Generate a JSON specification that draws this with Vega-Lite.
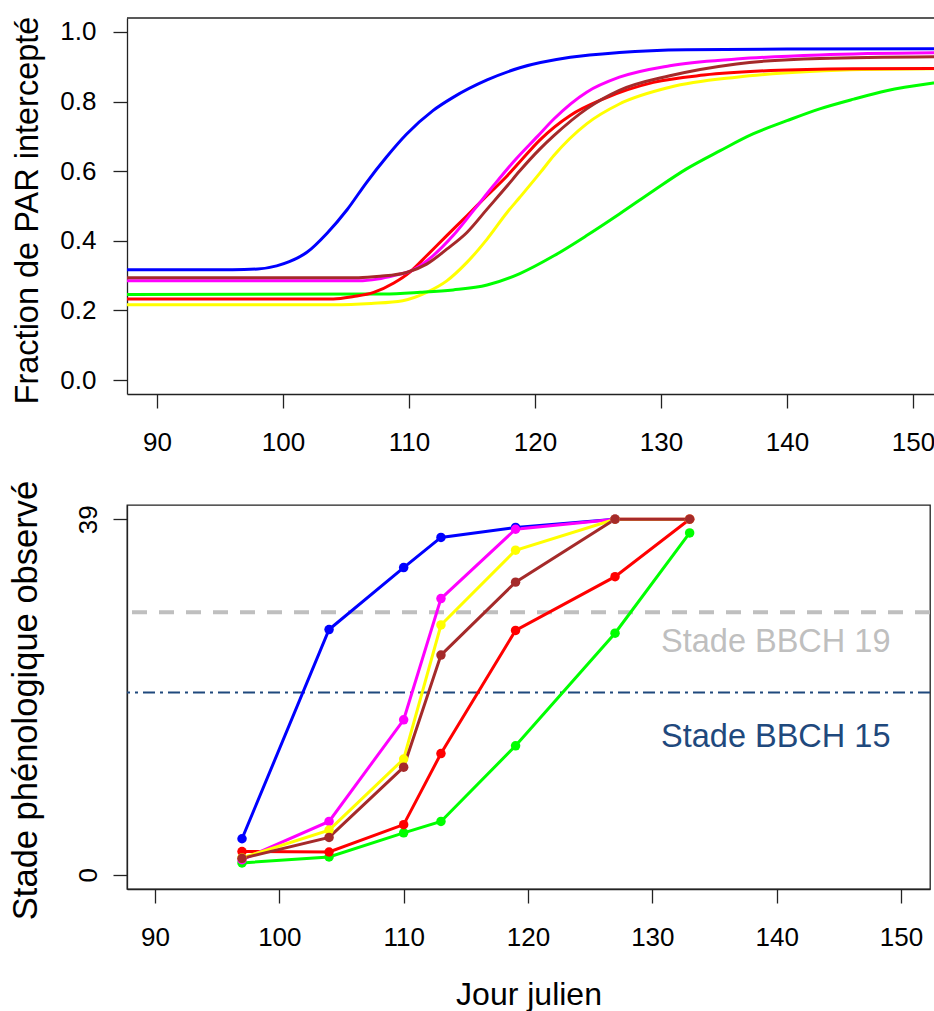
{
  "$schema": "https://vega.github.io/schema/vega-lite/v6.json",
  "background": "white",
  "padding": {"left": 7, "top": 16, "right": 0, "bottom": 0},
  "spacing": 24,
  "config": {
    "font": "Liberation Sans",
    "axis": {
      "grid": false,
      "domainColor": "#222222",
      "tickColor": "#222222",
      "domainWidth": 1.3,
      "tickWidth": 1.3,
      "tickSize": 14,
      "labelColor": "black",
      "titleColor": "black",
      "labelFont": "Liberation Sans",
      "titleFont": "Liberation Sans",
      "labelFontWeight": "normal",
      "titleFontWeight": "normal",
      "labelFontSize": 26,
      "titleFontSize": 32,
      "labelFlush": false,
      "labelOverlap": false
    }
  },
  "datasets": {
    "courbes": [
      {"serie": "s3", "jour": 87.6, "fraction": 0.216},
      {"serie": "s3", "jour": 104, "fraction": 0.216},
      {"serie": "s3", "jour": 107, "fraction": 0.22},
      {"serie": "s3", "jour": 109.5, "fraction": 0.228},
      {"serie": "s3", "jour": 111.4, "fraction": 0.252},
      {"serie": "s3", "jour": 113, "fraction": 0.285},
      {"serie": "s3", "jour": 114.6, "fraction": 0.338},
      {"serie": "s3", "jour": 116.2, "fraction": 0.405},
      {"serie": "s3", "jour": 117.8, "fraction": 0.482},
      {"serie": "s3", "jour": 118.8, "fraction": 0.525},
      {"serie": "s3", "jour": 120.4, "fraction": 0.595},
      {"serie": "s3", "jour": 121.5, "fraction": 0.645},
      {"serie": "s3", "jour": 124.1, "fraction": 0.736},
      {"serie": "s3", "jour": 126.7, "fraction": 0.793},
      {"serie": "s3", "jour": 130.7, "fraction": 0.841},
      {"serie": "s3", "jour": 136, "fraction": 0.87},
      {"serie": "s3", "jour": 141.8, "fraction": 0.886},
      {"serie": "s3", "jour": 146, "fraction": 0.892},
      {"serie": "s3", "jour": 152, "fraction": 0.894},

      {"serie": "s6", "jour": 87.6, "fraction": 0.246},
      {"serie": "s6", "jour": 108, "fraction": 0.247},
      {"serie": "s6", "jour": 110.9, "fraction": 0.252},
      {"serie": "s6", "jour": 113.5, "fraction": 0.259},
      {"serie": "s6", "jour": 116.2, "fraction": 0.273},
      {"serie": "s6", "jour": 118.8, "fraction": 0.306},
      {"serie": "s6", "jour": 121.5, "fraction": 0.357},
      {"serie": "s6", "jour": 124.1, "fraction": 0.415},
      {"serie": "s6", "jour": 126.7, "fraction": 0.477},
      {"serie": "s6", "jour": 129.4, "fraction": 0.544},
      {"serie": "s6", "jour": 132, "fraction": 0.606},
      {"serie": "s6", "jour": 134.7, "fraction": 0.659},
      {"serie": "s6", "jour": 137.3, "fraction": 0.707},
      {"serie": "s6", "jour": 140, "fraction": 0.745},
      {"serie": "s6", "jour": 142.6, "fraction": 0.779},
      {"serie": "s6", "jour": 145.3, "fraction": 0.807},
      {"serie": "s6", "jour": 147.9, "fraction": 0.831},
      {"serie": "s6", "jour": 151.6, "fraction": 0.853},
      {"serie": "s6", "jour": 152, "fraction": 0.855},

      {"serie": "s1", "jour": 87.6, "fraction": 0.317},
      {"serie": "s1", "jour": 96, "fraction": 0.317},
      {"serie": "s1", "jour": 98, "fraction": 0.319},
      {"serie": "s1", "jour": 99.5, "fraction": 0.328},
      {"serie": "s1", "jour": 100.5, "fraction": 0.34},
      {"serie": "s1", "jour": 101.9, "fraction": 0.367},
      {"serie": "s1", "jour": 103.5, "fraction": 0.422},
      {"serie": "s1", "jour": 105.1, "fraction": 0.49},
      {"serie": "s1", "jour": 106.6, "fraction": 0.566},
      {"serie": "s1", "jour": 108.2, "fraction": 0.64},
      {"serie": "s1", "jour": 109.8, "fraction": 0.706},
      {"serie": "s1", "jour": 111.9, "fraction": 0.774},
      {"serie": "s1", "jour": 113.5, "fraction": 0.812},
      {"serie": "s1", "jour": 116.2, "fraction": 0.862},
      {"serie": "s1", "jour": 118.8, "fraction": 0.897},
      {"serie": "s1", "jour": 122.8, "fraction": 0.927},
      {"serie": "s1", "jour": 126.7, "fraction": 0.941},
      {"serie": "s1", "jour": 132, "fraction": 0.949},
      {"serie": "s1", "jour": 140, "fraction": 0.951},
      {"serie": "s1", "jour": 152, "fraction": 0.952},

      {"serie": "s5", "jour": 87.6, "fraction": 0.233},
      {"serie": "s5", "jour": 104, "fraction": 0.233},
      {"serie": "s5", "jour": 105.6, "fraction": 0.24},
      {"serie": "s5", "jour": 107.2, "fraction": 0.252},
      {"serie": "s5", "jour": 108.8, "fraction": 0.279},
      {"serie": "s5", "jour": 110.1, "fraction": 0.311},
      {"serie": "s5", "jour": 111.4, "fraction": 0.357},
      {"serie": "s5", "jour": 113, "fraction": 0.415},
      {"serie": "s5", "jour": 114.6, "fraction": 0.472},
      {"serie": "s5", "jour": 116.2, "fraction": 0.53},
      {"serie": "s5", "jour": 117.8, "fraction": 0.587},
      {"serie": "s5", "jour": 118.8, "fraction": 0.627},
      {"serie": "s5", "jour": 120.4, "fraction": 0.69},
      {"serie": "s5", "jour": 122.8, "fraction": 0.76},
      {"serie": "s5", "jour": 125.4, "fraction": 0.807},
      {"serie": "s5", "jour": 129.4, "fraction": 0.855},
      {"serie": "s5", "jour": 133.4, "fraction": 0.876},
      {"serie": "s5", "jour": 138.7, "fraction": 0.889},
      {"serie": "s5", "jour": 145.2, "fraction": 0.894},
      {"serie": "s5", "jour": 152, "fraction": 0.895},

      {"serie": "s2", "jour": 87.6, "fraction": 0.285},
      {"serie": "s2", "jour": 106, "fraction": 0.285},
      {"serie": "s2", "jour": 107.5, "fraction": 0.29},
      {"serie": "s2", "jour": 108.8, "fraction": 0.3},
      {"serie": "s2", "jour": 110.3, "fraction": 0.316},
      {"serie": "s2", "jour": 111.9, "fraction": 0.357},
      {"serie": "s2", "jour": 113.5, "fraction": 0.415},
      {"serie": "s2", "jour": 115.1, "fraction": 0.486},
      {"serie": "s2", "jour": 116.7, "fraction": 0.558},
      {"serie": "s2", "jour": 118.3, "fraction": 0.627},
      {"serie": "s2", "jour": 120.2, "fraction": 0.7},
      {"serie": "s2", "jour": 121.5, "fraction": 0.75},
      {"serie": "s2", "jour": 124.1, "fraction": 0.827},
      {"serie": "s2", "jour": 126.7, "fraction": 0.87},
      {"serie": "s2", "jour": 130.7, "fraction": 0.903},
      {"serie": "s2", "jour": 136, "fraction": 0.922},
      {"serie": "s2", "jour": 142.6, "fraction": 0.934},
      {"serie": "s2", "jour": 152, "fraction": 0.94},

      {"serie": "s4", "jour": 87.6, "fraction": 0.294},
      {"serie": "s4", "jour": 106, "fraction": 0.294},
      {"serie": "s4", "jour": 107.7, "fraction": 0.298},
      {"serie": "s4", "jour": 109.8, "fraction": 0.309},
      {"serie": "s4", "jour": 111.4, "fraction": 0.333},
      {"serie": "s4", "jour": 113, "fraction": 0.376},
      {"serie": "s4", "jour": 114.6, "fraction": 0.424},
      {"serie": "s4", "jour": 116.2, "fraction": 0.491},
      {"serie": "s4", "jour": 117.8, "fraction": 0.558},
      {"serie": "s4", "jour": 118.8, "fraction": 0.601},
      {"serie": "s4", "jour": 120.4, "fraction": 0.664},
      {"serie": "s4", "jour": 121.5, "fraction": 0.702},
      {"serie": "s4", "jour": 124.1, "fraction": 0.779},
      {"serie": "s4", "jour": 126.7, "fraction": 0.832},
      {"serie": "s4", "jour": 130.7, "fraction": 0.874},
      {"serie": "s4", "jour": 136, "fraction": 0.908},
      {"serie": "s4", "jour": 142.6, "fraction": 0.924},
      {"serie": "s4", "jour": 152, "fraction": 0.929}
    ],
    "stades": [
      {"serie": "s1", "jour": 97, "stade": 3.95},
      {"serie": "s1", "jour": 104, "stade": 26.9},
      {"serie": "s1", "jour": 110, "stade": 33.7},
      {"serie": "s1", "jour": 113, "stade": 37.0},
      {"serie": "s1", "jour": 119, "stade": 38.1},
      {"serie": "s1", "jour": 127, "stade": 39},
      {"serie": "s6", "jour": 97, "stade": 1.3},
      {"serie": "s6", "jour": 104, "stade": 1.95},
      {"serie": "s6", "jour": 110, "stade": 4.6},
      {"serie": "s6", "jour": 113, "stade": 5.85},
      {"serie": "s6", "jour": 119, "stade": 14.15},
      {"serie": "s6", "jour": 127, "stade": 26.5},
      {"serie": "s6", "jour": 133, "stade": 37.5},
      {"serie": "s5", "jour": 97, "stade": 2.55},
      {"serie": "s5", "jour": 104, "stade": 2.5},
      {"serie": "s5", "jour": 110, "stade": 5.5},
      {"serie": "s5", "jour": 113, "stade": 13.3},
      {"serie": "s5", "jour": 119, "stade": 26.8},
      {"serie": "s5", "jour": 127, "stade": 32.7},
      {"serie": "s5", "jour": 133, "stade": 39},
      {"serie": "s2", "jour": 97, "stade": 1.65},
      {"serie": "s2", "jour": 104, "stade": 5.85},
      {"serie": "s2", "jour": 110, "stade": 17.0},
      {"serie": "s2", "jour": 113, "stade": 30.3},
      {"serie": "s2", "jour": 119, "stade": 37.9},
      {"serie": "s2", "jour": 127, "stade": 39},
      {"serie": "s2", "jour": 133, "stade": 39},
      {"serie": "s3", "jour": 97, "stade": 1.85},
      {"serie": "s3", "jour": 104, "stade": 4.9},
      {"serie": "s3", "jour": 110, "stade": 12.7},
      {"serie": "s3", "jour": 113, "stade": 27.4},
      {"serie": "s3", "jour": 119, "stade": 35.6},
      {"serie": "s3", "jour": 127, "stade": 39},
      {"serie": "s3", "jour": 133, "stade": 39},
      {"serie": "s4", "jour": 97, "stade": 1.8},
      {"serie": "s4", "jour": 104, "stade": 4.1},
      {"serie": "s4", "jour": 110, "stade": 11.8},
      {"serie": "s4", "jour": 113, "stade": 24.1},
      {"serie": "s4", "jour": 119, "stade": 32.1},
      {"serie": "s4", "jour": 127, "stade": 39},
      {"serie": "s4", "jour": 133, "stade": 39}
    ],
    "seuils": [
      {"seuil": "Stade BBCH 19", "stade": 28.8, "jour_label": 130.7},
      {"seuil": "Stade BBCH 15", "stade": 20, "jour_label": 130.7}
    ]
  },
  "vconcat": [
    {
      "width": 807,
      "height": 376,
      "view": {"stroke": null},
      "layer": [
        {
          "data": {"name": "courbes"},
          "mark": {"type": "line", "strokeWidth": 3, "interpolate": "monotone", "clip": true},
          "encoding": {
            "x": {
              "field": "jour", "type": "quantitative",
              "scale": {"domain": [87.62, 151.67], "nice": false, "zero": false},
              "axis": {"values": [90, 100, 110, 120, 130, 140, 150], "title": null, "labelPadding": 21, "labelBaseline": "top"}
            },
            "y": {
              "field": "fraction", "type": "quantitative",
              "scale": {"domain": [-0.04, 1.04], "nice": false, "zero": false},
              "axis": {
                "values": [0, 0.2, 0.4, 0.6, 0.8, 1.0], "format": ".1f",
                "title": "Fraction de PAR intercepté", "titleFontSize": 32.5,
                "titleX": -90, "titleY": 192, "titleAngle": 270, "titleAlign": "center", "titleBaseline": "alphabetic",
                "labelPadding": 17, "labelAlign": "right", "labelBaseline": "middle"
              }
            },
            "color": {
              "field": "serie", "type": "nominal",
              "scale": {"domain": ["s1", "s2", "s3", "s4", "s5", "s6"], "range": ["#0000FF", "#FF00FF", "#FFFF00", "#A52A2A", "#FF0000", "#00FF00"]},
              "legend": null
            }
          }
        },
        {
          "data": {"values": [{}]},
          "mark": {"type": "rule", "color": "#222222", "strokeWidth": 1.3},
          "encoding": {"y": {"datum": 1.04}}
        }
      ]
    },
    {
      "width": 803,
      "height": 384,
      "view": {"stroke": "#222222", "strokeWidth": 1.3},
      "layer": [
        {
          "data": {"name": "seuils"},
          "transform": [{"filter": "datum.seuil == 'Stade BBCH 19'"}],
          "mark": {"type": "rule", "color": "#BFBFBF", "strokeWidth": 4, "strokeDash": [15, 12]},
          "encoding": {"y": {"field": "stade", "type": "quantitative"}}
        },
        {
          "data": {"name": "seuils"},
          "transform": [{"filter": "datum.seuil == 'Stade BBCH 15'"}],
          "mark": {"type": "rule", "color": "#1F497D", "strokeWidth": 2, "strokeDash": [12, 5, 3, 5]},
          "encoding": {"y": {"field": "stade", "type": "quantitative"}}
        },
        {
          "data": {"name": "stades"},
          "mark": {"type": "line", "strokeWidth": 3},
          "encoding": {
            "x": {
              "field": "jour", "type": "quantitative",
              "scale": {"domain": [87.75, 152.33], "nice": false, "zero": false},
              "axis": {"values": [90, 100, 110, 120, 130, 140, 150], "title": "Jour julien", "titleFontSize": 32, "titlePadding": 29, "labelPadding": 21, "labelBaseline": "top"}
            },
            "y": {
              "field": "stade", "type": "quantitative",
              "scale": {"domain": [-1.56, 40.56], "nice": false, "zero": false},
              "axis": {
                "values": [0, 39],
                "title": "Stade phénologique observé", "titleFontSize": 34.5,
                "titleX": -91, "titleY": 195, "titleAngle": 270, "titleAlign": "center", "titleBaseline": "alphabetic",
                "labelAngle": 270, "labelAlign": "center", "labelBaseline": "alphabetic", "labelPadding": 17
              }
            },
            "color": {
              "field": "serie", "type": "nominal",
              "scale": {"domain": ["s1", "s2", "s3", "s4", "s5", "s6"], "range": ["#0000FF", "#FF00FF", "#FFFF00", "#A52A2A", "#FF0000", "#00FF00"]},
              "legend": null
            }
          }
        },
        {
          "data": {"name": "stades"},
          "mark": {"type": "point", "filled": true, "opacity": 1, "size": 90},
          "encoding": {
            "x": {"field": "jour", "type": "quantitative"},
            "y": {"field": "stade", "type": "quantitative"},
            "color": {"field": "serie", "type": "nominal", "legend": null}
          }
        },
        {
          "data": {"name": "seuils"},
          "transform": [{"filter": "datum.seuil == 'Stade BBCH 19'"}],
          "mark": {"type": "text", "color": "#BFBFBF", "fontSize": 32.5, "align": "left", "baseline": "alphabetic", "dy": 40, "font": "Liberation Sans"},
          "encoding": {
            "x": {"field": "jour_label", "type": "quantitative"},
            "y": {"field": "stade", "type": "quantitative"},
            "text": {"field": "seuil"}
          }
        },
        {
          "data": {"name": "seuils"},
          "transform": [{"filter": "datum.seuil == 'Stade BBCH 15'"}],
          "mark": {"type": "text", "color": "#1F497D", "fontSize": 32.5, "align": "left", "baseline": "alphabetic", "dy": 55, "font": "Liberation Sans"},
          "encoding": {
            "x": {"field": "jour_label", "type": "quantitative"},
            "y": {"field": "stade", "type": "quantitative"},
            "text": {"field": "seuil"}
          }
        }
      ]
    }
  ]
}
